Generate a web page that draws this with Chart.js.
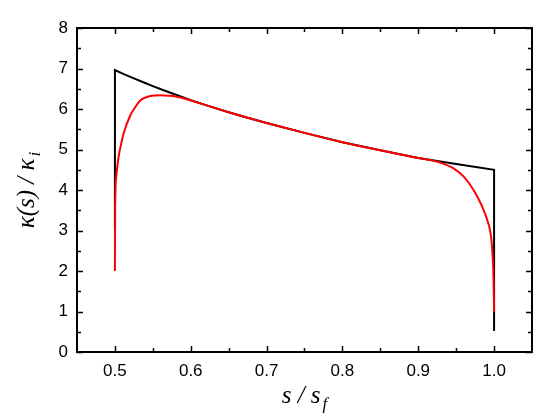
<!DOCTYPE html>
<html>
<head>
<meta charset="utf-8">
<script src="https://cdn.jsdelivr.net/npm/chart.js@4/dist/chart.umd.min.js"></script>
<style>
  body { margin: 0; background: #fff; }
</style>
</head>
<body>
<canvas id="grafico" width="560" height="420"></canvas>
<script>
// black curve: sharp profile
var sPreto = [0.5, 0.5, 0.5125, 0.525, 0.5375, 0.55, 0.5625, 0.575, 0.5875, 0.6, 0.625, 0.65, 0.675, 0.7, 0.75, 0.8, 0.85, 0.9, 0.95, 1.0, 1.0];
var kPreto = [3.0, 6.96, 6.855, 6.755, 6.66, 6.565, 6.475, 6.39, 6.305, 6.22, 6.065, 5.92, 5.785, 5.655, 5.41, 5.18, 4.98, 4.79, 4.64, 4.50, 0.52];

// red curve: smoothed profile
var sVermelho = [0.5, 0.5003, 0.5017, 0.5048, 0.508, 0.5114, 0.5202, 0.527, 0.5334, 0.54, 0.5466, 0.5598, 0.57, 0.58, 0.59, 0.6,
    0.625, 0.65, 0.675, 0.7, 0.75, 0.8, 0.85, 0.9, 0.91, 0.93, 0.947, 0.96, 0.973, 0.984, 0.992, 0.996, 0.998, 0.9993, 1.0];
var kVermelho = [2.0, 3.5, 4.32, 4.81, 5.12, 5.39, 5.84, 6.05, 6.21, 6.28, 6.32, 6.34, 6.33, 6.31, 6.265, 6.21,
    6.065, 5.92, 5.785, 5.655, 5.41, 5.18, 4.98, 4.79, 4.76, 4.67, 4.53, 4.33, 4.00, 3.60, 3.20, 2.85, 2.40, 1.80, 0.99];

var ticksX = [0.5, 0.6, 0.7, 0.8, 0.9, 1.0];
var ticksXMenor = [0.55, 0.65, 0.75, 0.85, 0.95];
var ticksY = [0, 1, 2, 3, 4, 5, 6, 7, 8];
var ticksYMenor = [0.5, 1.5, 2.5, 3.5, 4.5, 5.5, 6.5, 7.5];

function pontos(xs, ys) {
    return xs.map(function (x, i) { return { x: x, y: ys[i] }; });
}

var moldura = {
    id: 'moldura',
    afterDraw: function (chart) {
        var ctx = chart.ctx;
        var a = chart.chartArea;
        var sx = chart.scales.x;
        var sy = chart.scales.y;
        ctx.save();
        ctx.strokeStyle = '#000';
        ctx.lineWidth = 2;
        ctx.strokeRect(a.left, a.top, a.right - a.left, a.bottom - a.top);
        ctx.lineWidth = 1.5;
        ctx.beginPath();
        function marcaX(v, len) {
            var p = Math.round(sx.getPixelForValue(v)) + 0.5;
            ctx.moveTo(p, a.bottom); ctx.lineTo(p, a.bottom - len);
            ctx.moveTo(p, a.top); ctx.lineTo(p, a.top + len);
        }
        function marcaY(v, len) {
            var p = Math.round(sy.getPixelForValue(v)) + 0.5;
            ctx.moveTo(a.left, p); ctx.lineTo(a.left + len, p);
            ctx.moveTo(a.right, p); ctx.lineTo(a.right - len, p);
        }
        ticksX.forEach(function (v) { marcaX(v, 6); });
        ticksXMenor.forEach(function (v) { marcaX(v, 4); });
        ticksY.forEach(function (v) { marcaY(v, 6); });
        ticksYMenor.forEach(function (v) { marcaY(v, 4); });
        ctx.stroke();

        // axis titles with subscripts
        ctx.fillStyle = '#000';
        ctx.textBaseline = 'alphabetic';
        var fonte = 'italic 25px "Liberation Serif"';
        var fonteSub = 'italic 17px "Liberation Serif"';

        ctx.font = fonte;
        var t1 = 's / s';
        ctx.font = fonteSub;
        var w2 = ctx.measureText('f').width;
        ctx.font = fonte;
        var w1 = ctx.measureText(t1).width;
        var cx = (a.left + a.right) / 2;
        var x0 = cx - (w1 + w2 + 2) / 2;
        ctx.fillText(t1, x0, 403);
        ctx.font = fonteSub;
        ctx.fillText('f', x0 + w1 + 2, 409);

        ctx.translate(34, (a.top + a.bottom) / 2);
        ctx.rotate(-Math.PI / 2);
        ctx.font = fonte;
        var t3 = 'κ(s) / κ';
        var w3 = ctx.measureText(t3).width;
        ctx.font = fonteSub;
        var w4 = ctx.measureText('i').width;
        var y0 = -(w3 + w4 + 2) / 2;
        ctx.font = fonte;
        ctx.fillText(t3, y0, 0);
        ctx.font = fonteSub;
        ctx.fillText('i', y0 + w3 + 2, 6);
        ctx.restore();
    }
};

var config = {
    type: 'scatter',
    data: {
        datasets: [{
            label: 'vermelho',
            data: pontos(sVermelho, kVermelho),
            showLine: true,
            borderColor: '#ff0000',
            backgroundColor: '#ff0000',
            borderWidth: 2,
            pointRadius: 0,
            cubicInterpolationMode: 'monotone'
        }, {
            label: 'preto',
            data: pontos(sPreto, kPreto),
            showLine: true,
            borderColor: '#000000',
            backgroundColor: '#000000',
            borderWidth: 2,
            pointRadius: 0,
            tension: 0
        }]
    },
    options: {
        responsive: false,
        animation: false,
        layout: { padding: { top: 28, right: 28, left: 0, bottom: 0 } },
        plugins: { legend: { display: false }, tooltip: { enabled: false } },
        scales: {
            x: {
                type: 'linear',
                min: 0.45,
                max: 1.05,
                afterBuildTicks: function (s) { s.ticks = ticksX.map(function (v) { return { value: v }; }); },
                afterFit: function (s) { s.height = 68; },
                grid: { display: false, drawTicks: false },
                border: { display: false },
                ticks: {
                    padding: 9,
                    color: '#000',
                    font: { family: 'Liberation Sans', size: 17 },
                    maxRotation: 0,
                    callback: function (v) { return Number(v).toFixed(1); }
                }
            },
            y: {
                type: 'linear',
                min: 0,
                max: 8,
                afterBuildTicks: function (s) { s.ticks = ticksY.map(function (v) { return { value: v }; }); },
                afterFit: function (s) { s.width = 77; },
                grid: { display: false, drawTicks: false },
                border: { display: false },
                ticks: {
                    padding: 9,
                    color: '#000',
                    font: { family: 'Liberation Sans', size: 17 },
                    callback: function (v) { return String(v); }
                }
            }
        }
    },
    plugins: [moldura]
};

var grafico = new Chart(document.getElementById('grafico'), config);
</script>
</body>
</html>
